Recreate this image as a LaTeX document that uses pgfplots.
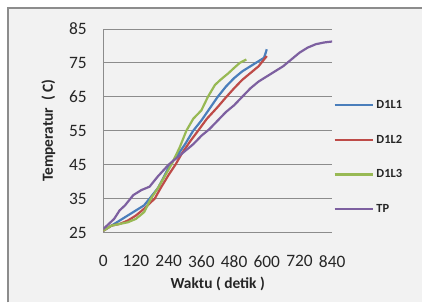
\documentclass[border=0pt]{standalone}
\usepackage{fontspec}
\setmainfont{Carlito}
\usepackage{pgfplots}
\pgfplotsset{compat=1.18}
\definecolor{cblue}{HTML}{4A7EBB}
\definecolor{cred}{HTML}{BE4B48}
\definecolor{cgreen}{HTML}{98B954}
\definecolor{cpurple}{HTML}{7D60A0}
\definecolor{bgc}{HTML}{F2F2F2}
\definecolor{gridc}{HTML}{8C8C8C}
\begin{document}
\begin{tikzpicture}[x=1bp,y=1bp]
\path[fill=white] (0,0) rectangle (423,303);
\path[fill=bgc] (8,0) rectangle (423,295);
\draw[color=gray!90, line width=2bp] (8,0)--(8,295)--(423,295);
\begin{axis}[
  at={(103.5bp,70bp)}, anchor=south west,
  scale only axis, width=229.5bp, height=204bp,
  xmin=0, xmax=840, ymin=25, ymax=85,
  xtick={0,120,...,840}, ytick={25,35,...,85},
  axis x line=bottom, axis y line=left,
  axis line style={gridc, line width=0.8bp, -},
  ymajorgrids, grid style={gridc, line width=0.8bp},
  major tick length=0pt,
  /pgf/number format/assume math mode=true,
  ticklabel style={font=\fontsize{17.5}{20}\selectfont, text=black!85},
  yticklabel style={anchor=east, xshift=-13bp},
  xticklabel style={anchor=center, yshift=-29bp},
  xlabel={\textbf{Waktu ( detik )}},
  ylabel={\textbf{Temperatur\ \ ( C)}},
  label style={font=\fontsize{15.5}{18}\selectfont, text=black!85},
  xlabel style={at={(axis description cs:0.5,-0.255)}, anchor=center},
  ylabel style={at={(axis description cs:-0.24,0.5)}, anchor=center},
  every axis plot/.append style={line width=2.2bp, no markers},
  legend style={at={(1,0.37)}, anchor=west, xshift=1bp, draw=none, fill=none,
    font=\bfseries\fontsize{12.5}{14}\selectfont, row sep=21bp, inner sep=0pt,
    cells={anchor=west}, text=black!85},
  legend image code/.code={\draw[#1] (0bp,0bp)--(39bp,0bp);},
]
\addplot[cblue] coordinates {
(0,25.5)(30,27)(60,28.5)(90,30)(120,31.5)(150,33)(170,35)(200,38)(220,41)(245,45)
(270,47.5)(300,51)(330,55)(360,58)(390,61.5)(420,65)(450,68)(480,70.5)(510,72.5)
(540,74)(570,75.5)(590,76.5)(600,79)};
\addlegendentry{D1L1}
\addplot[cred] coordinates {
(0,25.5)(30,27)(60,27.5)(90,28.5)(120,30)(150,32)(189,35)(210,38)(240,42)(265,45)
(290,48.5)(320,52)(348,55)(380,58.5)(420,62)(452,65)(480,67.5)(510,70)(540,72)
(570,74)(585,75.5)(600,77)};
\addlegendentry{D1L2}
\addplot[cgreen] coordinates {
(0,25.5)(30,27)(60,27.5)(90,28)(120,29)(150,31)(175,35)(200,38)(225,41.5)(250,45)
(280,50)(305,55)(330,58.5)(360,61)(384,65)(410,68.5)(430,70)(460,72)(480,73.5)
(501,75)(525,76)};
\addlegendentry{D1L3}
\addplot[cpurple] coordinates {
(0,26)(20,27.5)(40,29)(60,31.5)(80,33)(110,36)(140,37.5)(170,38.5)(200,41.5)(240,45)
(270,47)(300,49)(330,51)(360,53.5)(390,55.5)(420,58)(450,60.5)(480,62.5)(510,65)
(540,67.5)(570,69.5)(600,71)(630,72.5)(660,74)(690,76)(720,78)(750,79.5)(780,80.5)
(810,81)(840,81.3)};
\addlegendentry{TP}
\end{axis}
\end{tikzpicture}
\end{document}
